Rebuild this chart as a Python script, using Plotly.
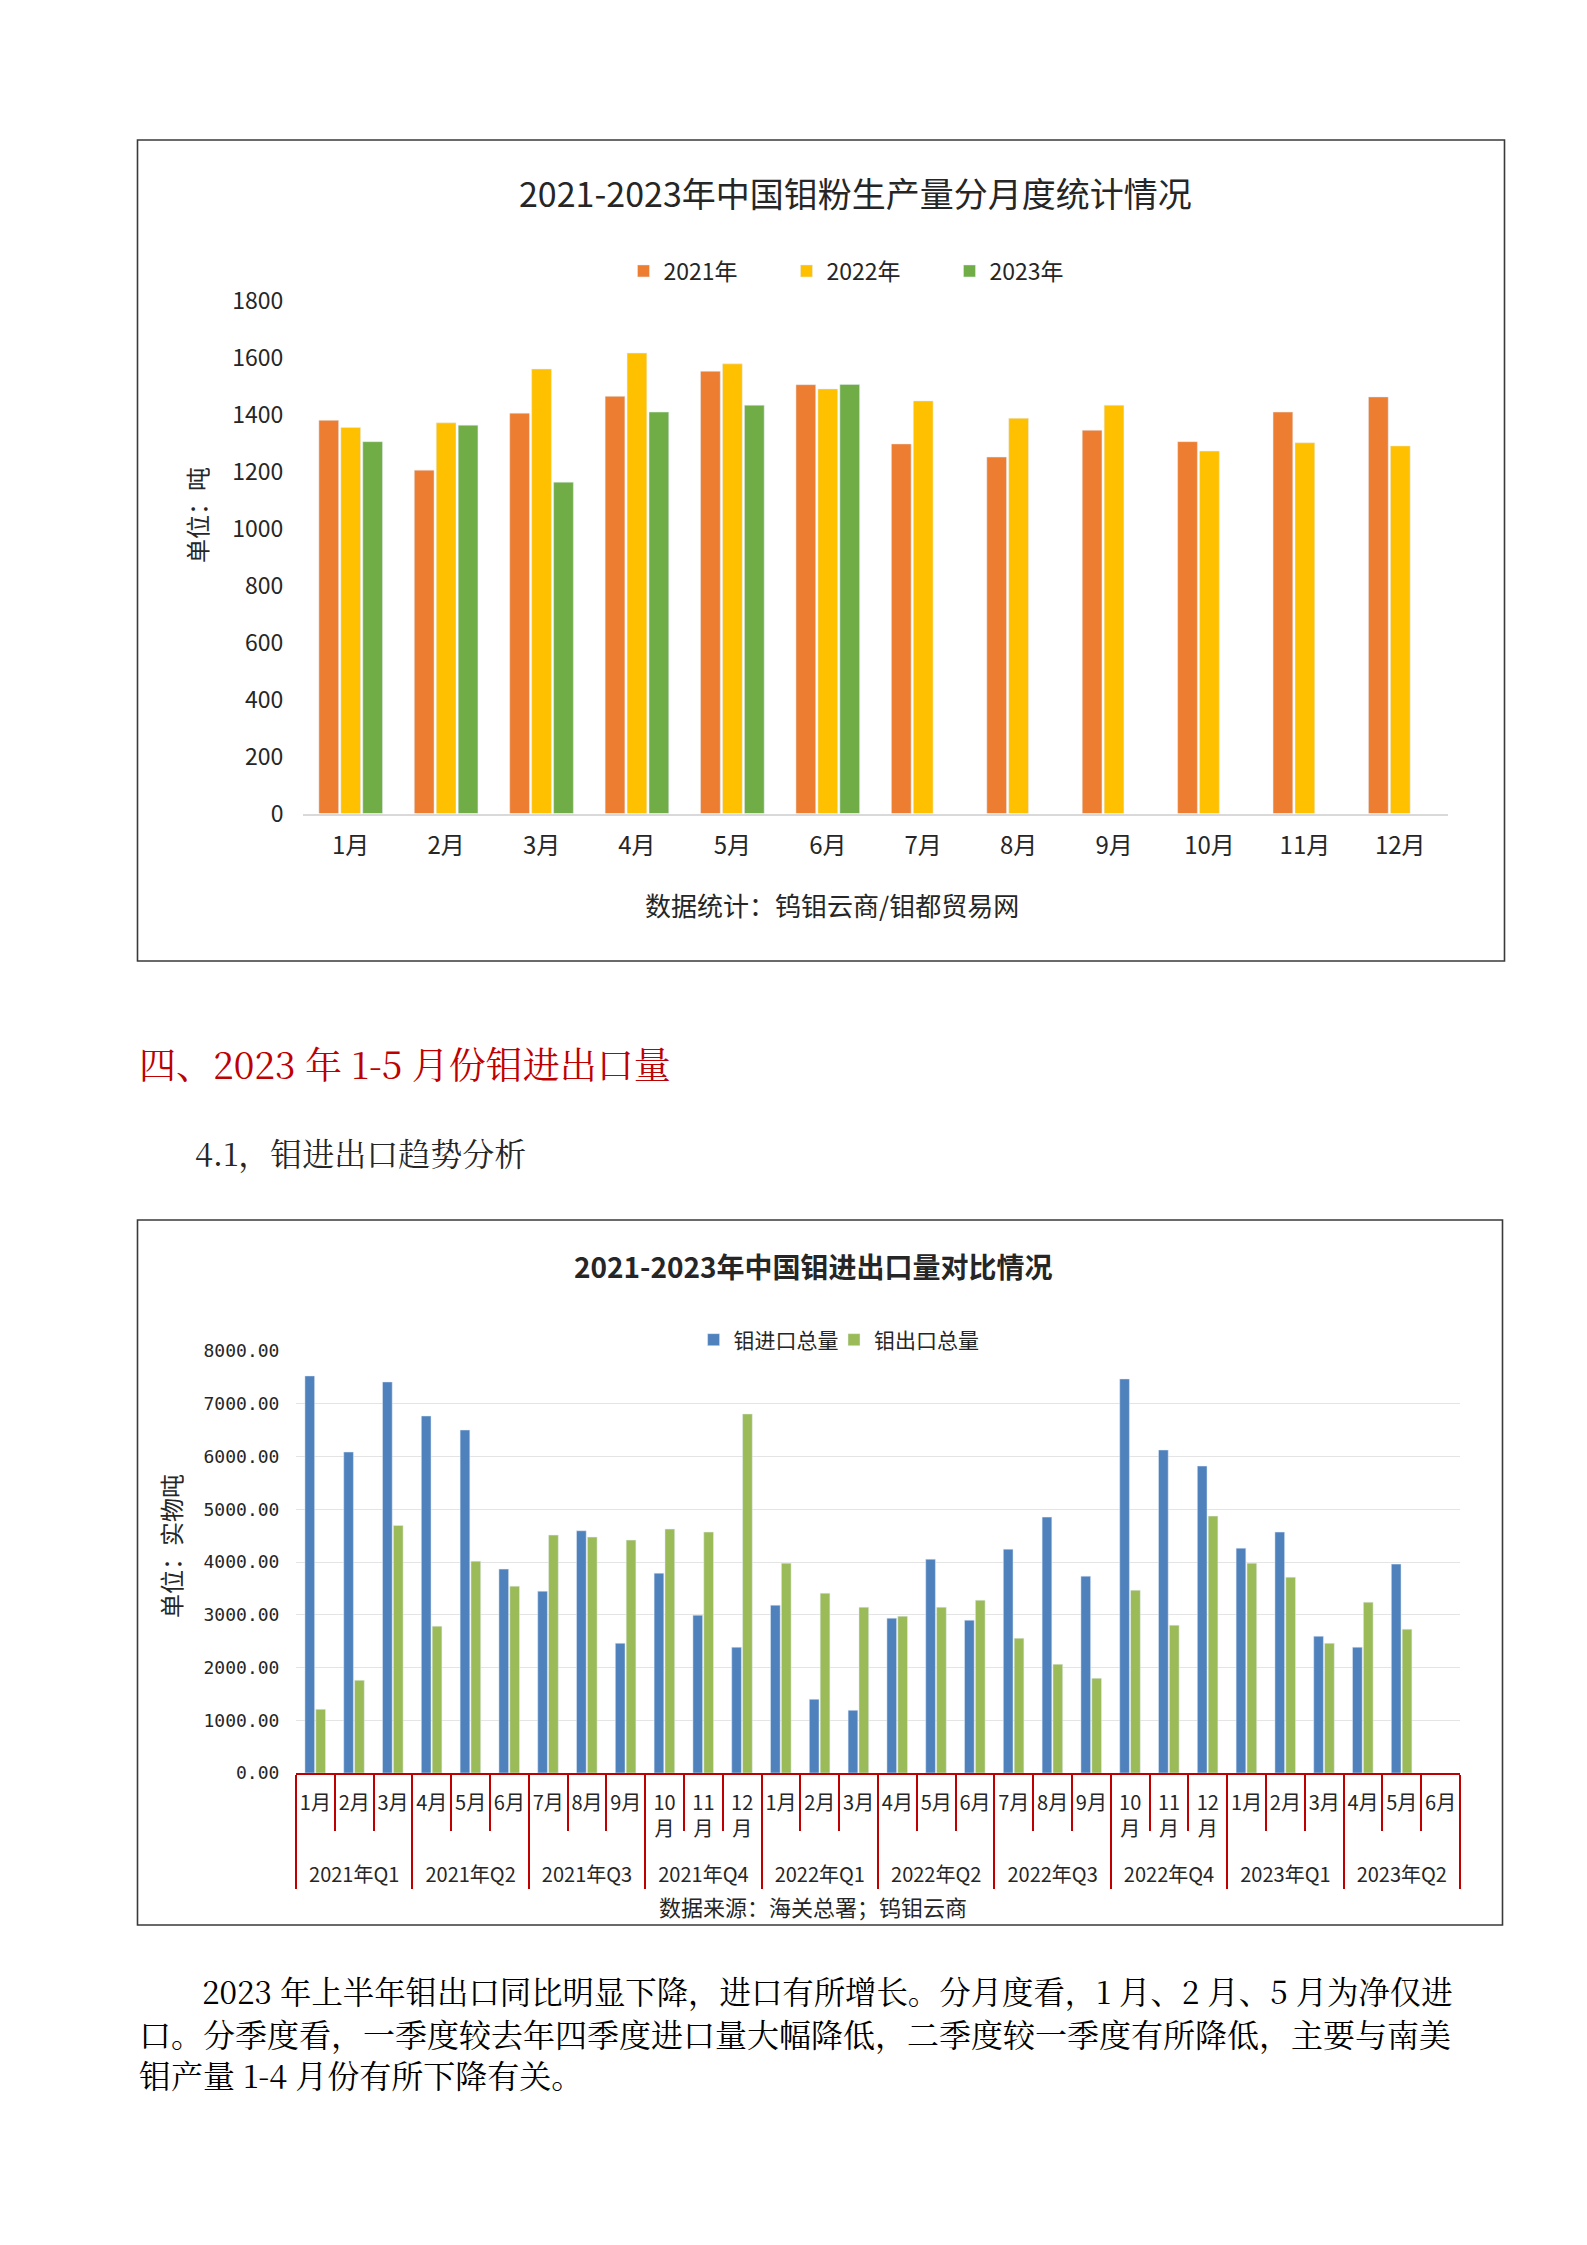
import plotly.graph_objects as go

W, H = 1587, 2245

def px(x):
    return x / W

def py(y):
    return 1 - y / H

# ---------------- data: chart 1 (钼粉产量, 吨) ----------------
months = ["1月", "2月", "3月", "4月", "5月", "6月", "7月", "8月", "9月", "10月", "11月", "12月"]
prod_2021 = [1380, 1205, 1405, 1464, 1552, 1505, 1297, 1251, 1345, 1305, 1409, 1462]
prod_2022 = [1355, 1371, 1560, 1616, 1578, 1490, 1448, 1387, 1433, 1272, 1301, 1290]
prod_2023 = [1305, 1363, 1163, 1409, 1433, 1506]

# ---------------- data: chart 2 (钼进出口, 实物吨) ----------------
quarters = ["2021年Q1", "2021年Q2", "2021年Q3", "2021年Q4",
            "2022年Q1", "2022年Q2", "2022年Q3", "2022年Q4",
            "2023年Q1", "2023年Q2"]
quarter_months = [["1月", "2月", "3月"], ["4月", "5月", "6月"], ["7月", "8月", "9月"],
                  ["10<br>月<br>&nbsp;", "11<br>月<br>&nbsp;", "12<br>月<br>&nbsp;"]]
imports = [7527, 6085, 7413, 6768, 6502, 3865, 3447, 4592, 2460, 3789, 2992, 2385,
           3182, 1398, 1189, 2935, 4054, 2897, 4244, 4851, 3732, 7470, 6123, 5819,
           4263, 4567, 2593, 2385, 3960, None]
exports = [1208, 1758, 4693, 2783, 4016, 3542, 4510, 4472, 4415, 4624, 4567, 6806,
           3978, 3409, 3144, 2973, 3144, 3276, 2555, 2062, 1796, 3466, 2802, 4870,
           3978, 3713, 2460, 3238, 2726, None]

outer_level = []
inner_level = []
for qi, q in enumerate(quarters):
    for m in quarter_months[qi % 4]:
        outer_level.append(q)
        inner_level.append(m)
n_cat = len(inner_level)

CJK = "Noto Sans CJK SC"
TXT = "#262626"

fig = go.Figure()

# chart 1 bars
fig.add_trace(go.Bar(x=months, y=prod_2021, name="2021年", marker_color="#ED7D31",
                     xaxis="x", yaxis="y", legend="legend"))
fig.add_trace(go.Bar(x=months, y=prod_2022, name="2022年", marker_color="#FFC000",
                     xaxis="x", yaxis="y", legend="legend"))
fig.add_trace(go.Bar(x=months[:len(prod_2023)], y=prod_2023, name="2023年", marker_color="#70AD47",
                     xaxis="x", yaxis="y", legend="legend"))

# chart 2 bars
fig.add_trace(go.Bar(x=[outer_level, inner_level], y=imports, name="钼进口总量",
                     marker_color="#4F81BD", width=0.25, offset=-0.27,
                     xaxis="x2", yaxis="y2", legend="legend2"))
fig.add_trace(go.Bar(x=[outer_level, inner_level], y=exports, name="钼出口总量",
                     marker_color="#9BBB59", width=0.25, offset=0.01,
                     xaxis="x2", yaxis="y2", legend="legend3"))
# helper trace for month-boundary tick axis
fig.add_trace(go.Scatter(x=[], y=[], xaxis="x3", yaxis="y2", showlegend=False, hoverinfo="skip"))

leg_font = dict(size=21, family=CJK, color=TXT)

fig.update_layout(
    width=W, height=H,
    margin=dict(l=0, r=0, t=0, b=0, pad=0, autoexpand=False),
    paper_bgcolor="white", plot_bgcolor="rgba(0,0,0,0)",
    font=dict(family=CJK, color=TXT),
    barmode="group", bargap=0.31, bargroupgap=0.1,
    showlegend=True,
    xaxis=dict(domain=[px(303), px(1448)], anchor="y", type="category",
               showline=True, linecolor="#D9D9D9", linewidth=1.5,
               ticks="outside", ticklen=10, tickcolor="rgba(0,0,0,0)",
               tickfont=dict(size=24, family=CJK, color=TXT), showgrid=False, fixedrange=True),
    yaxis=dict(domain=[py(813.6), py(300.6)], anchor="x", range=[0, 1800], dtick=200,
               showgrid=False, zeroline=False, showline=False,
               ticks="outside", ticklen=14, tickcolor="rgba(0,0,0,0)",
               tickfont=dict(size=23, family=CJK, color=TXT)),
    xaxis2=dict(domain=[px(296), px(1460)], anchor="y2", type="multicategory",
                range=[-0.5, n_cat - 0.5], tickangle=0,
                showline=True, linecolor="#C00000", linewidth=2,
                showdividers=True, dividercolor="#C00000", dividerwidth=2,
                ticks="outside", ticklen=10, tickcolor="rgba(0,0,0,0)",
                ticklabelstandoff=11,
                tickfont=dict(size=20, family=CJK, color=TXT), showgrid=False),
    xaxis3=dict(overlaying="x2", anchor="y2", side="bottom", range=[-0.5, n_cat - 0.5],
                tickmode="array", tickvals=[i + 0.5 for i in range(n_cat - 1)],
                ticks="outside", ticklen=57, tickwidth=2, tickcolor="#C00000",
                showticklabels=False, showgrid=False, zeroline=False, showline=False),
    yaxis2=dict(domain=[py(1773), py(1351)], anchor="x2", range=[0, 8000], dtick=1000,
                tickformat=".2f", showgrid=True, gridcolor="#E4E4E4", gridwidth=1.2,
                zeroline=False, showline=False,
                ticks="outside", ticklen=12, tickcolor="rgba(0,0,0,0)",
                tickfont=dict(size=18, family="DejaVu Sans Mono", color=TXT)),
    legend=dict(orientation="h", x=px(868), xanchor="center", y=py(271), yanchor="middle",
                font=dict(size=23, family=CJK, color=TXT), bgcolor="rgba(0,0,0,0)",
                entrywidth=118, entrywidthmode="pixels", traceorder="normal"),
    legend2=dict(orientation="h", x=px(693.6), xanchor="left", y=py(1340), yanchor="middle",
                 font=leg_font, bgcolor="rgba(0,0,0,0)"),
    legend3=dict(orientation="h", x=px(834), xanchor="left", y=py(1340), yanchor="middle",
                 font=leg_font, bgcolor="rgba(0,0,0,0)"),
)

# chart borders
fig.add_shape(type="rect", xref="paper", yref="paper",
              x0=px(137.5), x1=px(1504.5), y0=py(961), y1=py(140),
              line=dict(color="#3A3A3A", width=1.6), fillcolor="rgba(0,0,0,0)")
fig.add_shape(type="rect", xref="paper", yref="paper",
              x0=px(137.5), x1=px(1502.5), y0=py(1925), y1=py(1220),
              line=dict(color="#3A3A3A", width=1.6), fillcolor="rgba(0,0,0,0)")

SERIF = "Noto Serif CJK SC, Liberation Serif, Noto Sans CJK SC"

def ann(text, x, y, size, color=TXT, xanchor="center", angle=0, family=CJK):
    fig.add_annotation(text=text, x=px(x), y=py(y), xref="paper", yref="paper",
                       xanchor=xanchor, yanchor="middle", showarrow=False, textangle=angle,
                       font=dict(size=size, color=color, family=family))

ann("2021-2023年中国钼粉生产量分月度统计情况", 855, 192, 34)
ann("单位：吨", 196, 515, 24, angle=-90)
ann("数据统计：钨钼云商/钼都贸易网", 832, 904, 26)

ann("<b>2021-2023年中国钼进出口量对比情况</b>", 813, 1266, 28)
ann("单位：实物吨", 170, 1546, 24, angle=-90)
ann("数据来源：海关总署；钨钼云商", 813, 1906, 22)

ann("四、2023 年 1-5 月份钼进出口量", 137, 1063, 37, color="#C00000", xanchor="left", family=SERIF)
ann("4.1，钼进出口趋势分析", 193, 1152, 32, xanchor="left", family=SERIF)

para = [
    ("2023 年上半年钼出口同比明显下降，进口有所增长。分月度看，1 月、2 月、5 月为净仅进", 200, 31.4),
    ("口。分季度看，一季度较去年四季度进口量大幅降低，二季度较一季度有所降低，主要与南美", 137, 32),
    ("钼产量 1-4 月份有所下降有关。", 137, 32),
]
for i, (line, x0, fs) in enumerate(para):
    ann(line, x0, 1991 + i * 41.5, fs, color="#000000", xanchor="left", family=SERIF)

fig.write_html("out.html", config={"displayModeBar": False},
               post_script="document.body.style.margin='0px';")
